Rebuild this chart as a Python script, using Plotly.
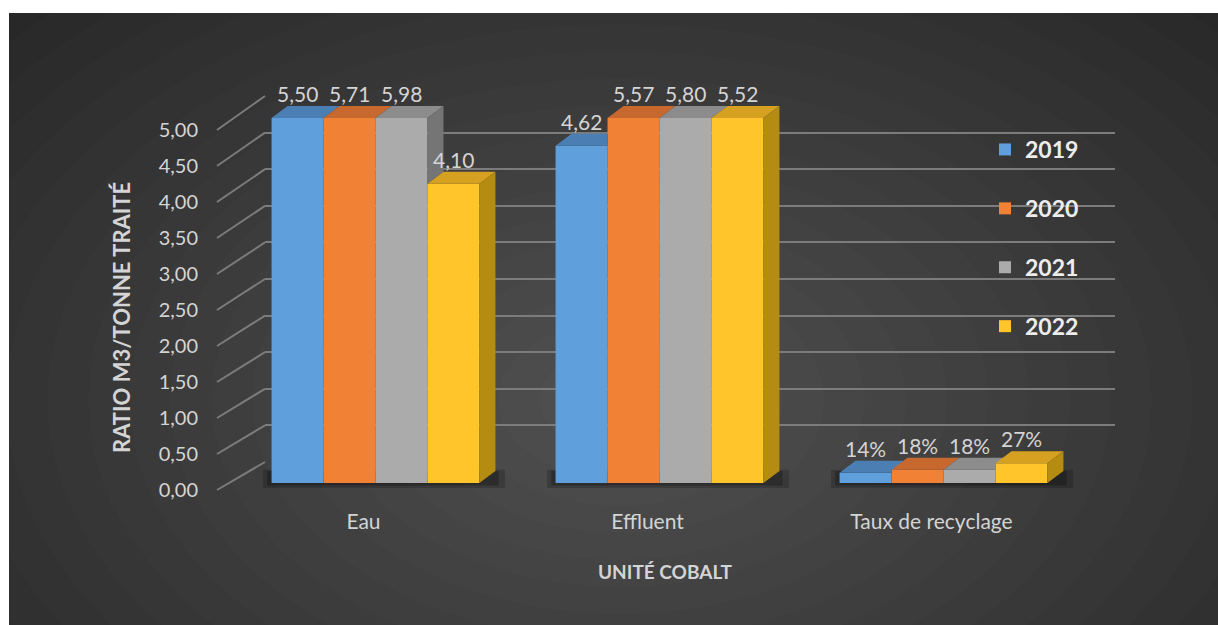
import plotly.graph_objects as go

# ---------------- data ----------------
CATEGORIES = ["Eau", "Effluent", "Taux de recyclage"]
YEARS = ["2019", "2020", "2021", "2022"]
V2019 = [5.50, 4.62, 0.14]
V2020 = [5.71, 5.57, 0.18]
V2021 = [5.98, 5.80, 0.18]
V2022 = [4.10, 5.52, 0.27]
SERIES = [V2019, V2020, V2021, V2022]
PERCENT_CATEGORY = "Taux de recyclage"
Y_TICKS = [0.0, 0.5, 1.0, 1.5, 2.0, 2.5, 3.0, 3.5, 4.0, 4.5, 5.0]
AXIS_MAX = 5.0
X_TITLE = "UNITÉ COBALT"
Y_TITLE = "RATIO M3/TONNE TRAITÉ"

# ---------------- style ----------------
FRONT = ["#5E9FDC", "#F18134", "#ABABAB", "#FFC52A"]
TOP = ["#4B7FB4", "#C7692F", "#8C8C8C", "#D6A021"]
SIDE = ["#3E6C9C", "#A85829", "#757575", "#B58C12"]
TXT = "#D4D4D4"
GRID = "#7C7C7C"
FONT = "Lato"

W, H = 1218, 625
def px_x(p):
    return p / W
def px_y(p):
    return 1 - p / H

# bar plane geometry (pixels)
BAR_X0, BAR_X1 = 233.5, 1085.5
BAR_BASE_PY = 483.0
PX_PER_UNIT = 73.0
BAR_RANGE = [-0.3, 6.0]
BARGAP = 0.268
DEPTH_X_PX, DEPTH_Y_PX = 16.0, 12.0
# back wall (gridlines)
WALL_X0, WALL_X1 = 265.0, 1115.0
WALL_Y0, WALL_Y5 = 462.0, 96.0
# front axis (tick labels)
LAB_X = 217.0
LAB_Y0, LAB_Y5 = 490.0, 130.0

px_per_cat = (BAR_X1 - BAR_X0) / len(CATEGORIES)
DX = DEPTH_X_PX / px_per_cat
DY = DEPTH_Y_PX / PX_PER_UNIT

def fmt(cat, v):
    if cat == PERCENT_CATEGORY:
        return f"{round(v * 100)}%"
    return f"{v:.2f}".replace(".", ",")

fig = go.Figure()

# back wall subplot (drawn first => behind bars)
fig.add_trace(go.Scatter(x=[None], y=[None], xaxis="x", yaxis="y",
                         showlegend=False, hoverinfo="skip"))
# front label subplot
fig.add_trace(go.Scatter(x=[None], y=[None], xaxis="x3", yaxis="y3",
                         showlegend=False, hoverinfo="skip"))

for k, (year, vals) in enumerate(zip(YEARS, SERIES)):
    shown = [min(v, AXIS_MAX) for v in vals]
    fig.add_trace(go.Bar(
        x=CATEGORIES, y=shown, name=year, xaxis="x2", yaxis="y2",
        marker=dict(color=FRONT[k], line=dict(width=0)),
        offsetgroup=str(k), legendgroup=year, hoverinfo="skip",
    ))

shapes = []
annotations = []
# background radial glow
N_GLOW = 20
for j in range(N_GLOW):
    f = 1 - j / N_GLOW
    rx = 820 * f + 40
    ry = 540 * f + 25
    cx, cy = 620, 400
    shapes.append(dict(type="circle", xref="paper", yref="paper", layer="below",
                       x0=px_x(cx - rx), x1=px_x(cx + rx), y0=px_y(cy + ry), y1=px_y(cy - ry),
                       fillcolor="rgba(255,255,255,0.0105)", line=dict(width=0)))
# white margins
shapes.append(dict(type="rect", xref="paper", yref="paper", layer="below",
                   x0=-0.01, x1=px_x(9), y0=-0.01, y1=1.01, fillcolor="white", line=dict(width=0)))
shapes.append(dict(type="rect", xref="paper", yref="paper", layer="below",
                   x0=-0.01, x1=1.01, y0=px_y(13), y1=1.01, fillcolor="white", line=dict(width=0)))
# connectors front axis -> back wall
for v in Y_TICKS:
    y_front = LAB_Y0 + (LAB_Y5 - LAB_Y0) * v / AXIS_MAX
    y_back = WALL_Y0 + (WALL_Y5 - WALL_Y0) * v / AXIS_MAX
    shapes.append(dict(type="line", xref="paper", yref="paper", layer="below",
                       x0=px_x(LAB_X), y0=px_y(y_front), x1=px_x(WALL_X0), y1=px_y(y_back),
                       line=dict(color=GRID, width=2)))

group_w = 1 - BARGAP
bw = group_w / len(YEARS)
for i, cat in enumerate(CATEGORIES):
    gl = i - group_w / 2
    # soft floor shadow
    shapes.append(dict(type="rect", xref="x2", yref="y2", layer="below",
                       x0=gl - 0.03, x1=gl + group_w + DX * 1.6, y0=-0.07, y1=DY * 1.1,
                       fillcolor="rgba(0,0,0,0.18)", line=dict(width=0)))
    shapes.append(dict(type="rect", xref="x2", yref="y2", layer="below",
                       x0=gl - 0.015, x1=gl + group_w + DX * 1.2, y0=-0.035, y1=DY,
                       fillcolor="rgba(0,0,0,0.25)", line=dict(width=0)))
    for k in range(len(YEARS)):
        v = SERIES[k][i]
        h = min(v, AXIS_MAX)
        x0 = gl + k * bw
        x1 = x0 + bw
        hn = min(SERIES[k + 1][i], AXIS_MAX) if k < len(YEARS) - 1 else None
        # top face (clipped by next bar's front face)
        if hn is None or hn <= h:
            pts = [(x0, h), (x1, h), (x1 + DX, h + DY), (x0 + DX, h + DY)]
        elif hn >= h + DY:
            pts = [(x0, h), (x1, h), (x1, h + DY), (x0 + DX, h + DY)]
        else:
            t = (hn - h) / DY
            pts = [(x0, h), (x1, h), (x1, hn), (x1 + DX * t, hn),
                   (x1 + DX, h + DY), (x0 + DX, h + DY)]
        path = "M" + " L".join(f"{a},{b}" for a, b in pts) + " Z"
        shapes.append(dict(type="path", xref="x2", yref="y2", layer="above", path=path,
                           fillcolor=TOP[k], line=dict(width=0)))
        # side face
        lo = 0.0 if hn is None else hn
        if h > lo:
            pts = [(x1, lo), (x1, h), (x1 + DX, h + DY), (x1 + DX, lo + DY)]
            path = "M" + " L".join(f"{a},{b}" for a, b in pts) + " Z"
            shapes.append(dict(type="path", xref="x2", yref="y2", layer="above", path=path,
                               fillcolor=SIDE[k], line=dict(width=0)))
        # value label
        annotations.append(dict(text=fmt(cat, v), xref="x2", yref="y2",
                                x=(x0 + x1) / 2, y=h, xanchor="center", yanchor="bottom",
                                yshift=10, showarrow=False,
                                font=dict(family=FONT, size=21, color=TXT)))

annotations += [
    dict(text=X_TITLE, xref="paper", yref="paper", x=px_x(665), y=px_y(571),
         xanchor="center", yanchor="middle", showarrow=False,
         font=dict(family=FONT, size=19, color=TXT, weight="bold")),
    dict(text=Y_TITLE, xref="paper", yref="paper", x=px_x(121), y=px_y(318),
         xanchor="center", yanchor="middle", textangle=-90, showarrow=False,
         font=dict(family=FONT, size=22, color=TXT, weight="bold")),
]

bar_dom_y = [px_y(BAR_BASE_PY - BAR_RANGE[0] * PX_PER_UNIT),
             px_y(BAR_BASE_PY - BAR_RANGE[1] * PX_PER_UNIT)]

fig.update_layout(
    width=W, height=H, margin=dict(l=0, r=0, t=0, b=0, pad=0, autoexpand=False),
    paper_bgcolor="#262626", plot_bgcolor="rgba(0,0,0,0)",
    barmode="group", bargap=BARGAP, bargroupgap=0,
    font=dict(family=FONT, color=TXT),
    shapes=shapes, annotations=annotations,
    showlegend=True,
    legend=dict(x=px_x(985), y=px_y(128), xanchor="left", yanchor="top",
                bgcolor="rgba(0,0,0,0)", tracegroupgap=26,
                font=dict(family=FONT, size=23, color="#EDEDED", weight="bold")),
    # back wall
    xaxis=dict(domain=[px_x(WALL_X0), px_x(WALL_X1)], anchor="y", range=[0, 1],
               visible=False, fixedrange=True),
    yaxis=dict(domain=[px_y(WALL_Y0), px_y(WALL_Y5)], anchor="x", range=[-0.001, 5.001],
               tickvals=Y_TICKS, showticklabels=False, ticks="", showgrid=True,
               gridcolor=GRID, gridwidth=2, zeroline=False, showline=False, fixedrange=True),
    # bars
    xaxis2=dict(domain=[px_x(BAR_X0), px_x(BAR_X1)], anchor="y2", type="category",
                categoryorder="array", categoryarray=CATEGORIES,
                showgrid=False, zeroline=False, showline=False, ticks="",
                ticklabelshift=-12, ticklabelstandoff=2,
                tickfont=dict(family=FONT, size=21, color=TXT), fixedrange=True),
    yaxis2=dict(domain=bar_dom_y, anchor="x2", range=BAR_RANGE, visible=False,
                fixedrange=True),
    # front tick labels
    xaxis3=dict(domain=[px_x(199), px_x(200)], anchor="y3", visible=False, range=[0, 1],
                fixedrange=True),
    yaxis3=dict(domain=[px_y(LAB_Y0), px_y(LAB_Y5)], anchor="x3", range=[0, AXIS_MAX],
                tickvals=Y_TICKS, ticktext=[f"{v:.2f}".replace(".", ",") for v in Y_TICKS],
                showgrid=False, zeroline=False, showline=False, ticks="",
                tickfont=dict(family=FONT, size=20, color=TXT), fixedrange=True),
)

fig.write_html("out.html", config={"displayModeBar": False},
               post_script="document.body.style.margin='0px';")
